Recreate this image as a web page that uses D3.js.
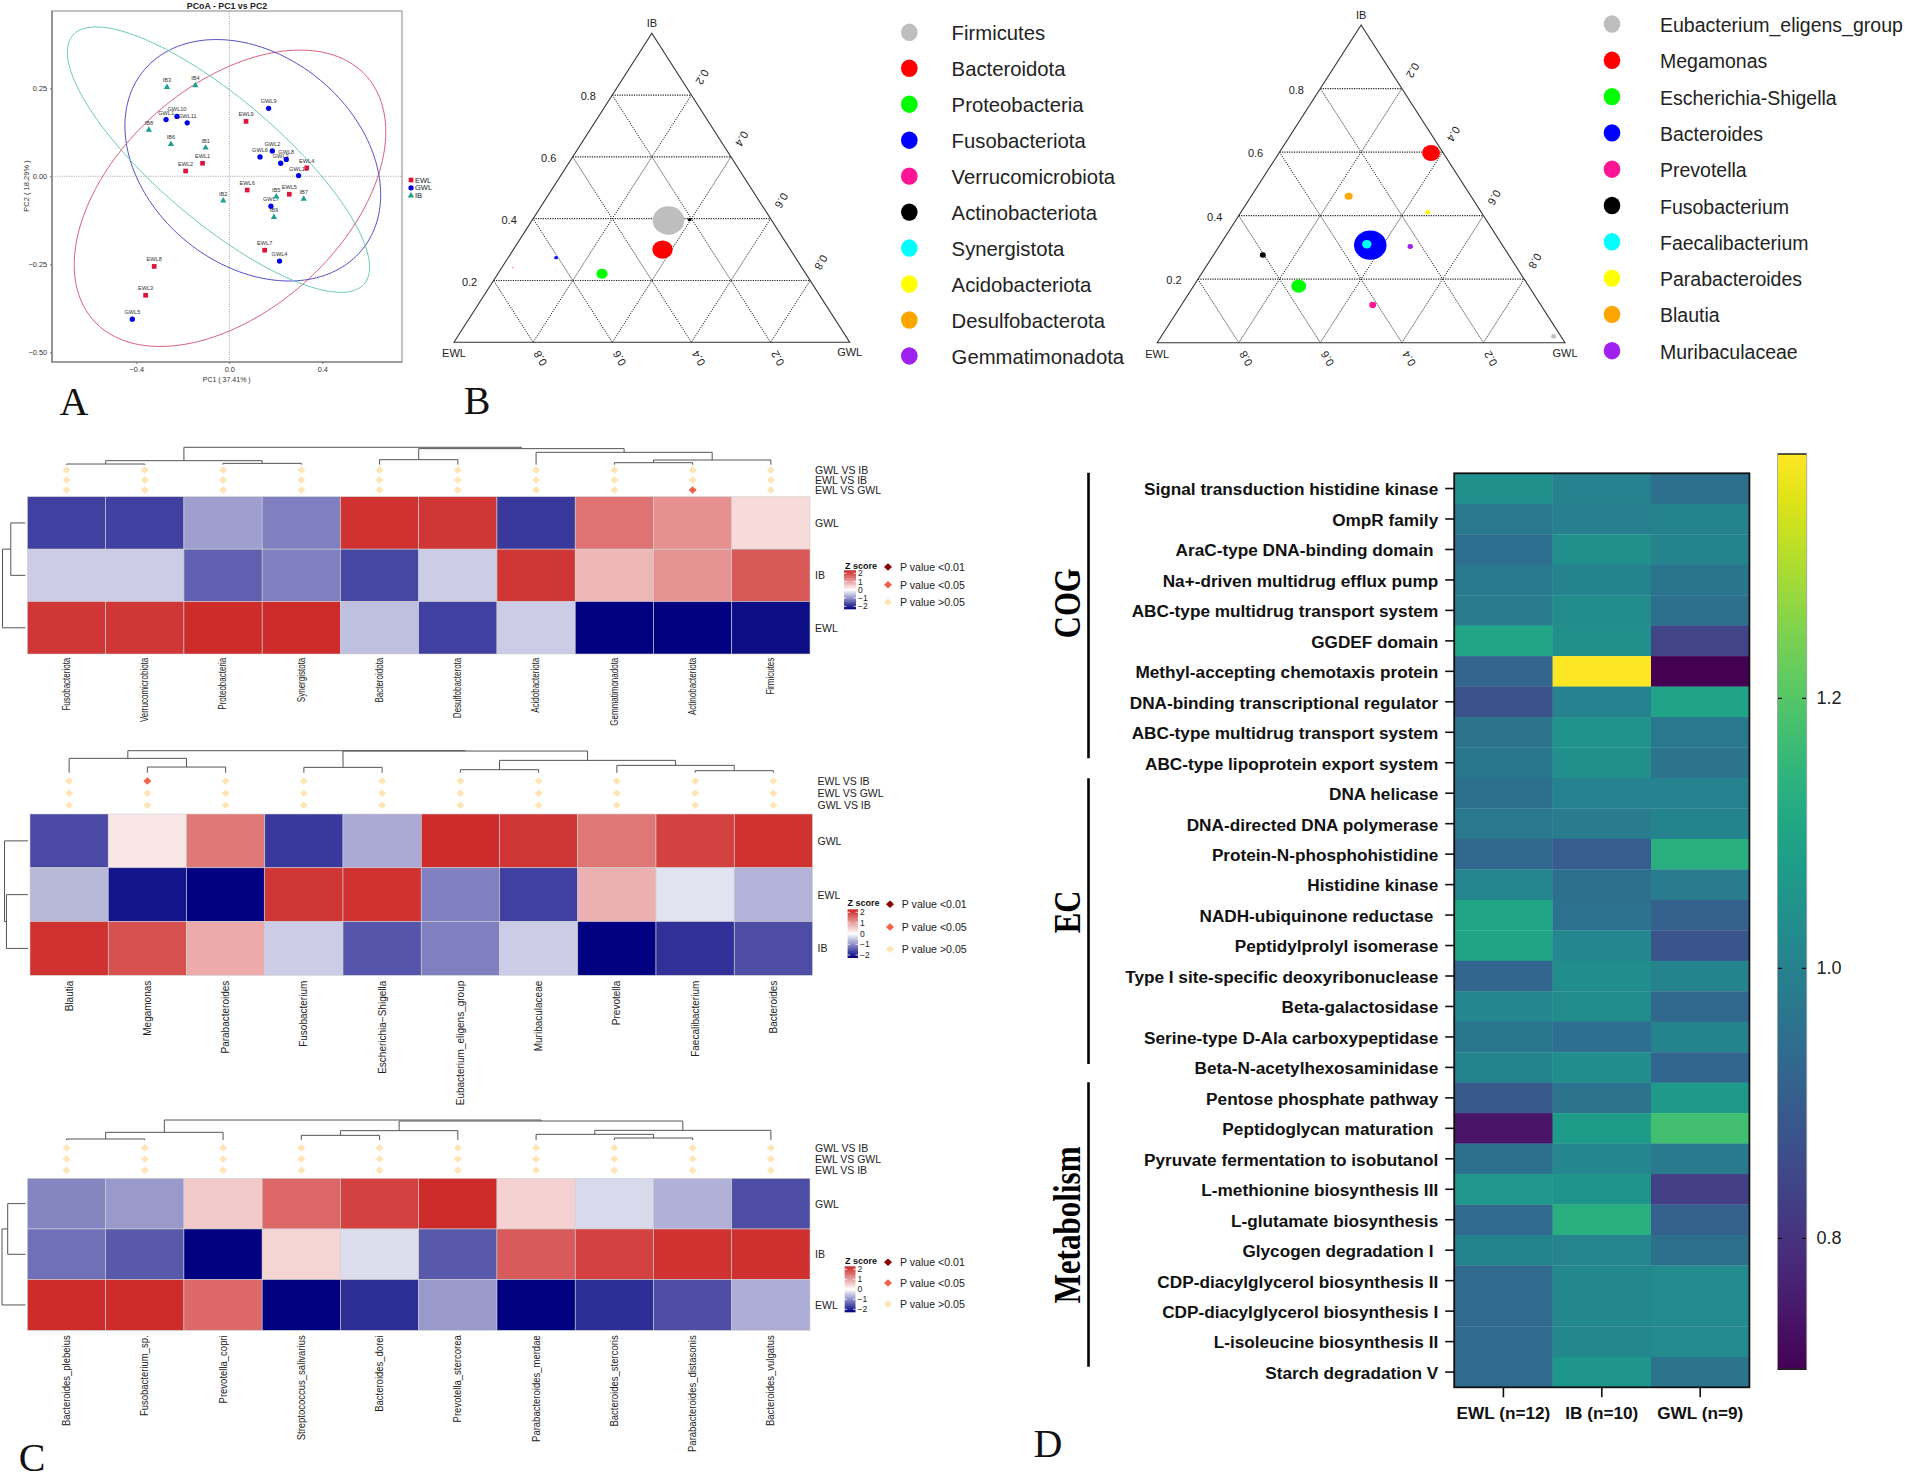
<!DOCTYPE html>
<html><head><meta charset="utf-8">
<script src="https://cdn.jsdelivr.net/npm/d3@7"></script>
<style>html,body{margin:0;padding:0;background:#fff}svg{display:block}text{font-family:"Liberation Sans",Arial,sans-serif;white-space:pre}</style>
</head><body><svg id="c" width="1905" height="1475"></svg>
<script>
// ---------- Panel A data ----------
const pcoaNames = ["EWL1","EWL2","EWL3","EWL4","EWL5","EWL6","EWL7","EWL8","EWL9","GWL1","GWL10","GWL11","GWL9","GWL2","GWL6","GWL8","GWL3","GWL12","GWL7","GWL4","GWL5","IB1","IB2","IB3","IB4","IB5","IB6","IB7","IB8","IB9"];
const pcoaGroup = ["EWL","EWL","EWL","EWL","EWL","EWL","EWL","EWL","EWL","GWL","GWL","GWL","GWL","GWL","GWL","GWL","GWL","GWL","GWL","GWL","GWL","IB","IB","IB","IB","IB","IB","IB","IB","IB"];
const pcoaPC1 = [-.115,-.188,-.36,.333,.258,.077,.152,-.323,.072,-.272,-.225,-.181,.169,.185,.132,.245,.221,.298,.179,.216,-.417,-.102,-.026,-.268,-.146,.202,-.251,.32,-.346,.192];
const pcoaPC2 = [.037,.015,-.338,.024,-.051,-.039,-.21,-.256,.156,.161,.170,.152,.193,.072,.055,.048,.037,.002,-.085,-.241,-.406,.081,-.069,.253,.258,-.058,.091,-.064,.132,-.116];
const ellipseGroups = ["EWL","GWL","IB"];
const ellipseCx = [.003,.101,-.0466];
const ellipseCy = [-.0625,.0455,.0473];
const ellipseRx = [.670,.55,.65];
const ellipseRy = [.421,.343,.377];
const ellipseRho = [.449,-.285,-.81];
// ---------- Panel B data ----------
const phylaNames = ["Firmicutes","Bacteroidota","Proteobacteria","Fusobacteriota","Verrucomicrobiota","Actinobacteriota","Synergistota","Acidobacteriota","Desulfobacterota","Gemmatimonadota"];
const phylaIB = [.394,.300,.222,.274,.242,.397,.032,.434,.234,.315];
const phylaGWL = [.345,.377,.263,.121,.028,.397,.008,.251,.142,.401];
const phylaAbund = [.566,.236,.071,.008,.001,.008,.0005,.0005,.0005,.0005];
const generaNames = ["Eubacterium_eligens_group","Megamonas","Escherichia-Shigella","Bacteroides","Prevotella","Fusobacterium","Faecalibacterium","Parabacteroides","Blautia","Muribaculaceae"];
const generaIB = [.02,.597,.178,.307,.119,.276,.31,.411,.461,.303];
const generaGWL = [.962,.373,.258,.369,.469,.121,.359,.458,.239,.469];
const generaAbund = [.014,.18,.124,.60,.027,.02,.05,.014,.035,.017];
const ternColors = ["#bebebe","#ff0000","#00ff00","#0000ff","#ff1493","#000000","#00ffff","#ffff00","#ffa500","#a020f0"];
const ternTicks = [.2,.4,.6,.8];
// ---------- Panel C data ----------
const c1Cols = ["Fusobacteriota","Verrucomicrobiota","Proteobacteria","Synergistota","Bacteroidota","Desulfobacterota","Acidobacteriota","Gemmatimonadota","Actinobacteriota","Firmicutes"];
const c1Rows = ["GWL","IB","EWL"];
const c1Vals = [[-1.5,-1.5,-.75,-1,1.9,1.85,-1.55,1.3,1.02,.34],[-.4,-.4,-1.25,-1,-1.45,-.4,1.85,.65,1,1.54],[1.85,1.85,1.95,1.95,-.5,-1.5,-.4,-2,-2,-1.9]];
const c1Tests = ["GWL VS IB","EWL VS IB","EWL VS GWL"];
const c1Sig = [[8,2]];
const c1ColTree = [52,[12,[2,0,1],[4,2,3]],[48,[15,4,5],[37,6,[14,[6,7,8],9]]]];
const c1RowTree = [36,[23,0,1],2];
const c2Cols = ["Blautia","Megamonas","Parabacteroides","Fusobacterium","Escherichia−Shigella","Eubacterium_eligens_group","Muribaculaceae","Prevotella","Faecalibacterium","Bacteroides"];
const c2Rows = ["GWL","EWL","IB"];
const c2Vals = [[-1.42,.23,1.24,-1.55,-.67,1.95,1.85,1.25,1.75,1.9],[-.56,-1.85,-2,1.85,1.9,-1,-1.5,.73,-.23,-.6],[1.9,1.6,.78,-.4,-1.33,-1,-.4,-2,-1.62,-1.4]];
const c2Tests = ["EWL VS IB","EWL VS GWL","GWL VS IB"];
const c2Sig = [[1,0]];
const c2ColTree = [66,[43,0,[17,1,2]],[65,[16,3,4],[37,[9,5,6],[22,7,[6,8,9]]]]];
const c2RowTree = [36,0,[33,1,2]];
const c3Cols = ["Bacteroides_plebeius","Fusobacterium_sp.","Prevotella_copri","Streptococcus_salivarius","Bacteroides_dorei","Prevotella_stercorea","Parabacteroides_merdae","Bacteroides_stercoris","Parabacteroides_distasonis","Bacteroides_vulgatus"];
const c3Rows = ["GWL","IB","EWL"];
const c3Vals = [[-.96,-.8,.49,1.4,1.75,1.95,.42,-.3,-.62,-1.4],[-1.12,-1.3,-2,.4,-.27,-1.3,1.52,1.75,1.9,1.92],[1.95,1.95,1.39,-2,-1.65,-.8,-2,-1.65,-1.4,-.65]];
const c3Tests = ["GWL VS IB","EWL VS GWL","EWL VS IB"];
const c3Sig = [];
const c3ColTree = [60,[23,[3,0,1],2],[57,[28,[14,3,4],5],[29,[17,6,[6,7,8]],9]]];
const c3RowTree = [37,[28,0,1],2];
const zTicks = [2,1,0,-1,-2];
const pLegend = ["P value <0.01","P value <0.05","P value >0.05"];
const pColors = ["#8b0000","#f4604a","#ffe4b5"];
// ---------- Panel D data ----------
const dRows = ["Signal transduction histidine kinase","OmpR family","AraC-type DNA-binding domain ","Na+-driven multidrug efflux pump","ABC-type multidrug transport system","GGDEF domain","Methyl-accepting chemotaxis protein","DNA-binding transcriptional regulator","ABC-type multidrug transport system\u200b","ABC-type lipoprotein export system","DNA helicase","DNA-directed DNA polymerase","Protein-N-phosphohistidine","Histidine kinase","NADH-ubiquinone reductase ","Peptidylprolyl isomerase","Type I site-specific deoxyribonuclease","Beta-galactosidase","Serine-type D-Ala carboxypeptidase","Beta-N-acetylhexosaminidase","Pentose phosphate pathway","Peptidoglycan maturation ","Pyruvate fermentation to isobutanol","L-methionine biosynthesis III","L-glutamate biosynthesis","Glycogen degradation I ","CDP-diacylglycerol biosynthesis II","CDP-diacylglycerol biosynthesis I","L-isoleucine biosynthesis II","Starch degradation V"];
const dCols = ["EWL (n=12)","IB (n=10)","GWL (n=9)"];
const dEWL = [1.04,.975,.945,.98,.985,1.105,.92,.875,.96,.97,.95,.975,.93,1.01,1.105,1.1,.925,1.015,.97,1.005,.89,.74,.95,1.065,.935,1.005,.935,.935,.935,.935];
const dIB = [1,.995,1.04,1.005,1.03,1.04,1.381,1,1.05,1.04,1,.985,.9,.95,.955,1.015,1.035,1.03,.945,1.035,.96,1.075,1.015,1.055,1.13,1.01,1.02,1.02,1.02,1.06];
const dGWL = [.95,1.005,1.005,.965,.95,.84,.703,1.095,.975,.96,1,1.005,1.13,.985,.91,.88,1.005,.93,1.005,.925,1.07,1.175,.98,.83,.91,.95,1.025,1.025,1.025,.96];
const dTicks = [.8,1,1.2];

const svg = d3.select("#c");
function T(p,s,x,y,o={}){
  const t=p.append("text").text(s)
    .attr("transform",`translate(${x},${y}) rotate(${o.r||0})`+(o.sx?` scale(${o.sx},1)`:""))
    .attr("font-size",o.fs||10).attr("text-anchor",o.a||"start").attr("fill",o.c||"#111");
  if(o.w) t.attr("font-weight",o.w);
  if(o.f) t.style("font-family",o.f);
  if(o.mid) t.attr("dominant-baseline","central");
  if(o.len) t.attr("textLength",o.len).attr("lengthAdjust","spacingAndGlyphs");
  return t;
}
const SERIF='"Liberation Serif","Times New Roman",serif';
[["A",74,415],["B",477,414],["C",32,1471],["D",1048,1457]].forEach(d=>T(svg,d[0],d[1],d[2],{fs:40,f:SERIF,a:"middle"}));

// ===== Panel A =====
(function(){
  const L=52,R=402,Tp=11,B=362;
  const x=d3.scaleLinear().domain([-.7626,.7428]).range([L,R]);
  const y=d3.scaleLinear().domain([-.5276,.4696]).range([B,Tp]);
  const g=svg.append("g");
  const colors={EWL:"#dc143c",GWL:"#0000e6",IB:"#1fa08f"};
  const ecolors={EWL:"#d9607c",GWL:"#5650c8",IB:"#6cc9b9"};
  g.append("rect").attr("x",L).attr("y",Tp).attr("width",R-L).attr("height",B-Tp).attr("fill","none").attr("stroke","#a8a8a8").attr("stroke-width",1.4);
  g.append("path").attr("d",`M${L},${Tp}V${B}H${R}`).attr("fill","none").attr("stroke","#777").attr("stroke-width",1.2);
  g.append("line").attr("x1",x(0)).attr("x2",x(0)).attr("y1",Tp).attr("y2",B).attr("stroke","#999").attr("stroke-dasharray","1.2,1.2").attr("stroke-width",.8);
  g.append("line").attr("y1",y(0)).attr("y2",y(0)).attr("x1",L).attr("x2",R).attr("stroke","#999").attr("stroke-dasharray","1.2,1.2").attr("stroke-width",.8);
  const line=d3.line().x(d=>d[0]).y(d=>d[1]).curve(d3.curveLinearClosed);
  ellipseGroups.forEach((n,i)=>{
    const phi=Math.acos(ellipseRho[i]);
    const pts=d3.range(0,2*Math.PI,Math.PI/90).map(t=>[x(ellipseCx[i]+ellipseRx[i]*Math.cos(t)),y(ellipseCy[i]+ellipseRy[i]*Math.cos(t-phi))]);
    g.append("path").attr("d",line(pts)).attr("fill","none").attr("stroke",ecolors[n]).attr("stroke-width",1);
  });
  const ax=g.append("g").attr("transform",`translate(0,${B})`).call(d3.axisBottom(x).tickValues([-.4,0,.4]).tickFormat(d3.format(".1f")).tickSize(2).tickPadding(3));
  const ay=g.append("g").attr("transform",`translate(${L},0)`).call(d3.axisLeft(y).tickValues([.25,0,-.25,-.5]).tickFormat(d3.format(".2f")).tickSize(2).tickPadding(3));
  [ax,ay].forEach(a=>{a.select(".domain").remove();a.selectAll("text").attr("font-size",7.3).attr("fill","#333").style("font-family",'"Liberation Sans"');a.selectAll("line").attr("stroke","#777")});
  T(g,"PCoA - PC1 vs PC2",227,9,{fs:8.8,w:"bold",a:"middle",c:"#222"});
  T(g,"PC1 ( 37.41% )",226.7,382,{fs:7,a:"middle",c:"#333"});
  T(g,"PC2 ( 18.29% )",29,186,{fs:7.5,a:"middle",r:-90,c:"#333"});
  pcoaNames.forEach((n,i)=>T(g,n,x(pcoaPC1[i]),y(pcoaPC2[i])-5,{fs:5.6,a:"middle",c:"#333"}));
  const sym={EWL:d3.symbolSquare,GWL:d3.symbolCircle,IB:d3.symbolTriangle};
  const sz={EWL:22,GWL:22,IB:17};
  pcoaNames.forEach((n,i)=>{const k=pcoaGroup[i];
    g.append("path").attr("d",d3.symbol(sym[k],sz[k])()).attr("fill",colors[k]).attr("transform",`translate(${x(pcoaPC1[i])},${y(pcoaPC2[i])})`);
  });
  ellipseGroups.forEach((n,i)=>{const yy=180+i*7.8;
    g.append("path").attr("d",d3.symbol(sym[n],sz[n])()).attr("fill",colors[n]).attr("transform",`translate(411,${yy})`);
    T(g,n,415,yy,{fs:7.5,mid:true,c:"#222"});
  });
})();

// ===== Panel B =====
function ternary(cfg){
  const g=svg.append("g");
  const xs=d3.scaleLinear().domain([0,1]).range([cfg.x0,cfg.x1]);
  const ys=d3.scaleLinear().domain([0,1]).range([cfg.yb,cfg.yt]);
  const P=(i,gw)=>[xs(gw+i/2),ys(i)];
  const seg=(a,b,w)=>g.append("line").attr("x1",a[0]).attr("y1",a[1]).attr("x2",b[0]).attr("y2",b[1]).attr("stroke","#222").attr("stroke-width",w||1).attr("stroke-dasharray","1.2,1.2");
  ternTicks.forEach(v=>{
    seg(P(v,0),P(v,1-v),1.2);
    seg(P(0,v),P(1-v,v),1);
    seg(P(0,1-v),P(1-v,0),1);
    const a=P(v,0),b=P(1-v,v),c=P(0,1-v);
    T(g,v.toFixed(1),a[0]-24,a[1]+1,{fs:11,a:"middle",mid:true,c:"#222"});
    T(g,v.toFixed(1),b[0]+11,b[1]-18,{fs:11,a:"middle",mid:true,r:120,c:"#222"});
    T(g,v.toFixed(1),c[0]+7,c[1]+16,{fs:11,a:"middle",mid:true,r:-120,c:"#222"});
  });
  g.append("path").attr("d",d3.line()([P(0,0),P(1,0),P(0,1)])+"Z").attr("fill","none").attr("stroke","#333").attr("stroke-width",1.1);
  const r=d3.scaleSqrt().domain([0,1]).range([0,21]);
  cfg.names.forEach((n,i)=>{const p=P(cfg.ib[i],cfg.gw[i]);
    g.append("ellipse").attr("cx",p[0]).attr("cy",p[1]).attr("rx",r(cfg.ab[i])).attr("ry",.9*r(cfg.ab[i])).attr("fill",ternColors[i]);
    const yy=cfg.ly0+i*cfg.ldy;
    g.append("ellipse").attr("cx",cfg.lx).attr("cy",yy).attr("rx",8.3).attr("ry",8.7).attr("fill",ternColors[i]);
    T(g,n,cfg.tx,yy+1,{fs:cfg.tfs,mid:true,c:"#222"});
  });
  T(g,"IB",xs(.5),cfg.yt-6,{fs:11,a:"middle",c:"#222"});
  T(g,"EWL",cfg.x0,cfg.yb+11,{fs:11,a:"middle",mid:true,c:"#222"});
  T(g,"GWL",cfg.x1,cfg.yb+10,{fs:11,a:"middle",mid:true,c:"#222"});
}
ternary({x0:454,x1:849.7,yb:342.3,yt:33.3,names:phylaNames,ib:phylaIB,gw:phylaGWL,ab:phylaAbund,lx:909.3,ly0:32.3,ldy:35.96,tx:951.6,tfs:20.3});
ternary({x0:1157.2,x1:1565,yb:342.7,yt:25,names:generaNames,ib:generaIB,gw:generaGWL,ab:generaAbund,lx:1612,ly0:24,ldy:36.3,tx:1660,tfs:19.5});

// ===== Panel C =====
const zColor=d3.scaleLinear().domain([-2,0,2]).range(["#000080","#ffffff","#cd2626"]);
const diamond=d3.line()([[0,-3.7],[4,0],[0,3.7],[-4,0]])+"Z";
function dendro(g,tree,pos,lv,sc,hor){
  function rec(n){
    if(typeof n==="number") return {p:pos(n),v:lv};
    const a=rec(n[1]),b=rec(n[2]),v=sc(n[0]);
    const d=hor?`M${a.v},${a.p}H${v}V${b.p}H${b.v}`:`M${a.p},${a.v}V${v}H${b.p}V${b.v}`;
    g.append("path").attr("d",d).attr("fill","none").attr("stroke","#555").attr("stroke-width",1);
    return {p:(a.p+b.p)/2,v:v};
  }
  rec(tree);
}
function heat(cfg){
  const g=svg.append("g");
  const x=d3.scaleBand().domain(d3.range(10)).range([cfg.x0,cfg.x1]);
  const y=d3.scaleBand().domain(d3.range(3)).range([cfg.y0,cfg.y1]);
  const cx=i=>x(i)+x.bandwidth()/2, cy=i=>y(i)+y.bandwidth()/2;
  cfg.vals.forEach((row,r)=>row.forEach((v,c)=>{
    g.append("rect").attr("x",x(c)).attr("y",y(r)).attr("width",x.bandwidth()).attr("height",y.bandwidth()).attr("fill",zColor(v)).attr("stroke","#cfcfcf").attr("stroke-width",.6);
  }));
  cfg.cols.forEach((n,c)=>T(g,n,cx(c),cfg.ly,{fs:10,a:"end",r:-90,sx:cfg.lsx,c:"#222"}).attr("dominant-baseline","central"));
  cfg.rows.forEach((n,r)=>T(g,n,cfg.x1+5,cy(r),{fs:10.5,mid:true,c:"#222"}));
  cfg.tests.forEach((n,r)=>{
    T(g,n,cfg.x1+5,cfg.dy[r],{fs:10.5,mid:true,c:"#222"});
    cfg.cols.forEach((_,c)=>{
      const sig=cfg.sig.some(s=>s[0]===c&&s[1]===r);
      g.append("path").attr("d",diamond).attr("fill",sig?pColors[1]:pColors[2]).attr("transform",`translate(${cx(c)},${cfg.dy[r]})`);
    });
  });
  const sd=d3.scaleLinear().domain([0,cfg.top]).range([cfg.base,cfg.topY]);
  dendro(g,cfg.colTree,cx,cfg.base,sd,false);
  const sr=d3.scaleLinear().domain([0,cfg.rtop]).range([cfg.x0-2,cfg.rx]);
  dendro(g,cfg.rowTree,cy,cfg.x0-2,sr,true);
  // legend
  T(g,"Z score",cfg.zx,cfg.zy,{fs:9,w:"bold",mid:true});
  const ys=d3.scaleLinear().domain([2,-2]).range([cfg.bt[2],cfg.bt[3]]);
  const gid=cfg.id;
  const lg=g.append("linearGradient").attr("id",gid).attr("x1",0).attr("x2",0).attr("y1",0).attr("y2",1);
  [[0,2],[.5,0],[1,-2]].forEach(s=>lg.append("stop").attr("offset",s[0]).attr("stop-color",zColor(s[1])));
  g.append("rect").attr("x",cfg.bt[0]).attr("width",cfg.bt[1]-cfg.bt[0]).attr("y",cfg.bt[2]-3).attr("height",cfg.bt[3]-cfg.bt[2]+6).attr("fill",`url(#${gid})`);
  zTicks.forEach(v=>{
    g.append("line").attr("x1",cfg.bt[0]).attr("x2",cfg.bt[1]).attr("y1",ys(v)).attr("y2",ys(v)).attr("stroke","#fff").attr("stroke-width",.8).attr("stroke-dasharray","2.4,"+(cfg.bt[1]-cfg.bt[0]-4.8));
    T(g,v<0?"−"+(-v):String(v),cfg.bt[1]+2,ys(v),{fs:8.5,mid:true,c:"#222"});
  });
  pLegend.forEach((n,i)=>{
    g.append("path").attr("d",diamond).attr("fill",pColors[i]).attr("transform",`translate(${cfg.px},${cfg.py[i]})`);
    T(g,n,cfg.ptx,cfg.py[i],{fs:10.6,mid:true,c:"#222"});
  });
}
heat({id:"z1",x0:27.4,x1:810,y0:496.7,y1:654,vals:c1Vals,cols:c1Cols,rows:c1Rows,tests:c1Tests,sig:c1Sig,colTree:c1ColTree,rowTree:c1RowTree,dy:[470,480,490],ly:657.7,lsx:.8,base:464.7,topY:447.3,top:52,rx:2.5,rtop:36,zx:845,zy:566,bt:[844,856,573.3,606.3],px:888,py:[567,584.7,602.3],ptx:900});
heat({id:"z2",x0:30,x1:812.5,y0:814,y1:975.3,vals:c2Vals,cols:c2Cols,rows:c2Rows,tests:c2Tests,sig:c2Sig,colTree:c2ColTree,rowTree:c2RowTree,dy:[781,793.3,805.3],ly:980.7,lsx:1,base:772.7,topY:750.7,top:66,rx:4.5,rtop:36,zx:847.6,zy:902.7,bt:[847.6,858,912.3,955],px:890,py:[904.3,927,949.3],ptx:901.8});
heat({id:"z3",x0:27.4,x1:810,y0:1178.3,y1:1330.3,vals:c3Vals,cols:c3Cols,rows:c3Rows,tests:c3Tests,sig:c3Sig,colTree:c3ColTree,rowTree:c3RowTree,dy:[1147.7,1159,1170.3],ly:1335.3,lsx:.95,base:1140,topY:1120,top:60,rx:2,rtop:37,zx:845,zy:1260.7,bt:[844.7,855.5,1269.3,1309.3],px:888,py:[1262.3,1283,1304.3],ptx:900});

// ===== Panel D =====
(function(){
  const g=svg.append("g");
  const x=d3.scaleBand().domain(dCols).range([1454.2,1749.4]);
  const y=d3.scaleBand().domain(dRows).range([473.3,1387.3]);
  const color=v=>d3.interpolateViridis((v-.703)/(1.381-.703));
  [dEWL,dIB,dGWL].forEach((col,c)=>col.forEach((v,r)=>{
    g.append("rect").attr("x",x(dCols[c])).attr("y",y(dRows[r])).attr("width",x.bandwidth()+.3).attr("height",y.bandwidth()+.3).attr("fill",color(v));
  }));
  g.append("rect").attr("x",1454.2).attr("y",473.3).attr("width",295.2).attr("height",914).attr("fill","none").attr("stroke","#111").attr("stroke-width",1.8);
  const ay=g.append("g").attr("transform","translate(1454.2,0)").call(d3.axisLeft(y).tickSize(9).tickPadding(7).tickFormat(d=>d.replace("\u200b","")));
  const ax=g.append("g").attr("transform","translate(0,1387.3)").call(d3.axisBottom(x).tickSize(10).tickPadding(9));
  [ax,ay].forEach(a=>{a.select(".domain").remove();a.selectAll("line").attr("stroke","#111").attr("stroke-width",1.6);
    a.selectAll("text").attr("font-size",17.2).attr("font-weight","bold").attr("fill","#111").style("font-family",'"Liberation Sans"').style("white-space","pre");});
  ay.selectAll("text").attr("dy","0.4em");
  const groups=[["COG",472.7,758.3,603.3,70],["EC",778.3,1064,912,42.7],["Metabolism",1082.3,1366.7,1225,157]];
  groups.forEach(d=>{
    g.append("line").attr("x1",1088.5).attr("x2",1088.5).attr("y1",d[1]).attr("y2",d[2]).attr("stroke","#000").attr("stroke-width",2.6);
    T(g,d[0],1079.7,d[3],{fs:38,len:d[4],f:SERIF,w:"bold",a:"middle",r:-90,c:"#000"});
  });
  const cb=d3.scaleLinear().domain([.703,1.381]).range([1369.3,454]);
  const lg=g.append("linearGradient").attr("id","vir").attr("x1",0).attr("x2",0).attr("y1",1).attr("y2",0);
  d3.range(0,1.001,.05).forEach(t=>lg.append("stop").attr("offset",t).attr("stop-color",d3.interpolateViridis(t)));
  g.append("rect").attr("x",1777.5).attr("y",454).attr("width",29.2).attr("height",915.3).attr("fill","url(#vir)");
  g.append("path").attr("d","M1777.5,454H1806.7M1777.5,1369.3H1806.7").attr("stroke","#222").attr("stroke-width",1.6);
  g.append("path").attr("d","M1777.5,454V1369.3M1806.7,454V1369.3").attr("stroke","#999").attr("stroke-width",.8);
  dTicks.forEach(v=>{
    g.append("path").attr("d",`M1778,${cb(v)}h4M1802,${cb(v)}h4`).attr("stroke","#111").attr("stroke-width",1.4);
    T(g,v.toFixed(1),1816.6,cb(v),{fs:18,mid:true,c:"#222"});
  });
})();
</script></body></html>
